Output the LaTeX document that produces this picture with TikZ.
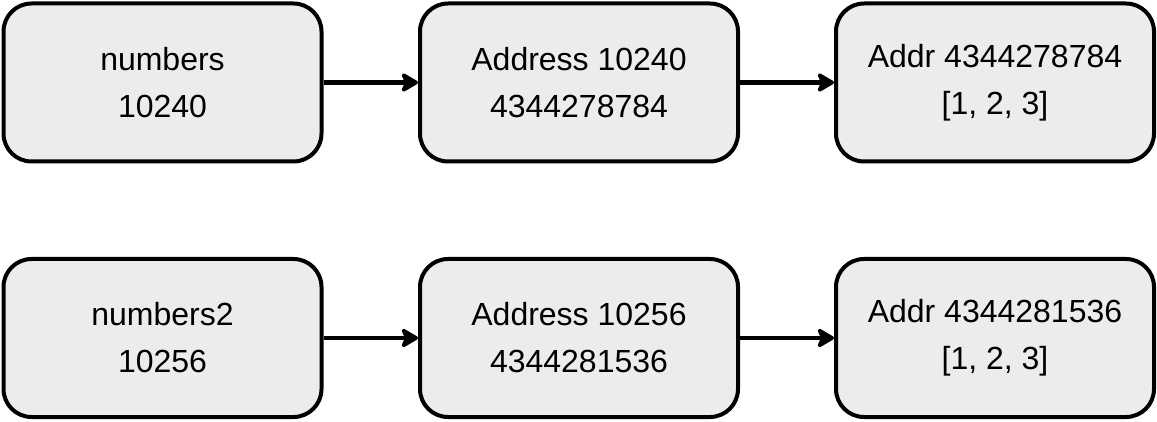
\documentclass[tikz,border=0pt]{standalone}
\usepackage{fontspec}
\setmainfont{Liberation Sans}
\usetikzlibrary{arrows.meta}
\definecolor{boxfill}{RGB}{236,236,236}
\tikzset{
  membox/.style={draw,line width=4pt,fill=boxfill,rounded corners=28pt,
    minimum width=318pt,minimum height=158pt,align=center,
    font=\fontsize{32}{47}\selectfont},
  ptr/.style={line width=4.5pt,-{Stealth[length=20pt,width=23pt,inset=5pt,round]}}
}
\begin{document}
\begin{tikzpicture}[x=1pt,y=-1pt]
\useasboundingbox(0,0)rectangle(1157,422);
% first list
\node[membox](var1)at(162.5,82.5){numbers\\10240};
\node[membox](addr1)at(579,82.5){Address 10240\\4344278784};
\node[membox](obj1)at(995,82.5){Addr 4344278784\\{}[1, 2, 3]};
% second list
\node[membox](var2)at(162.5,338){numbers2\\10256};
\node[membox](addr2)at(579,338){Address 10256\\4344281536};
\node[membox](obj2)at(995,338){Addr 4344281536\\{}[1, 2, 3]};
\foreach \a/\b in{var1/addr1,addr1/obj1,var2/addr2,addr2/obj2}
\draw[ptr](\a)--(\b);
\end{tikzpicture}
\end{document}
